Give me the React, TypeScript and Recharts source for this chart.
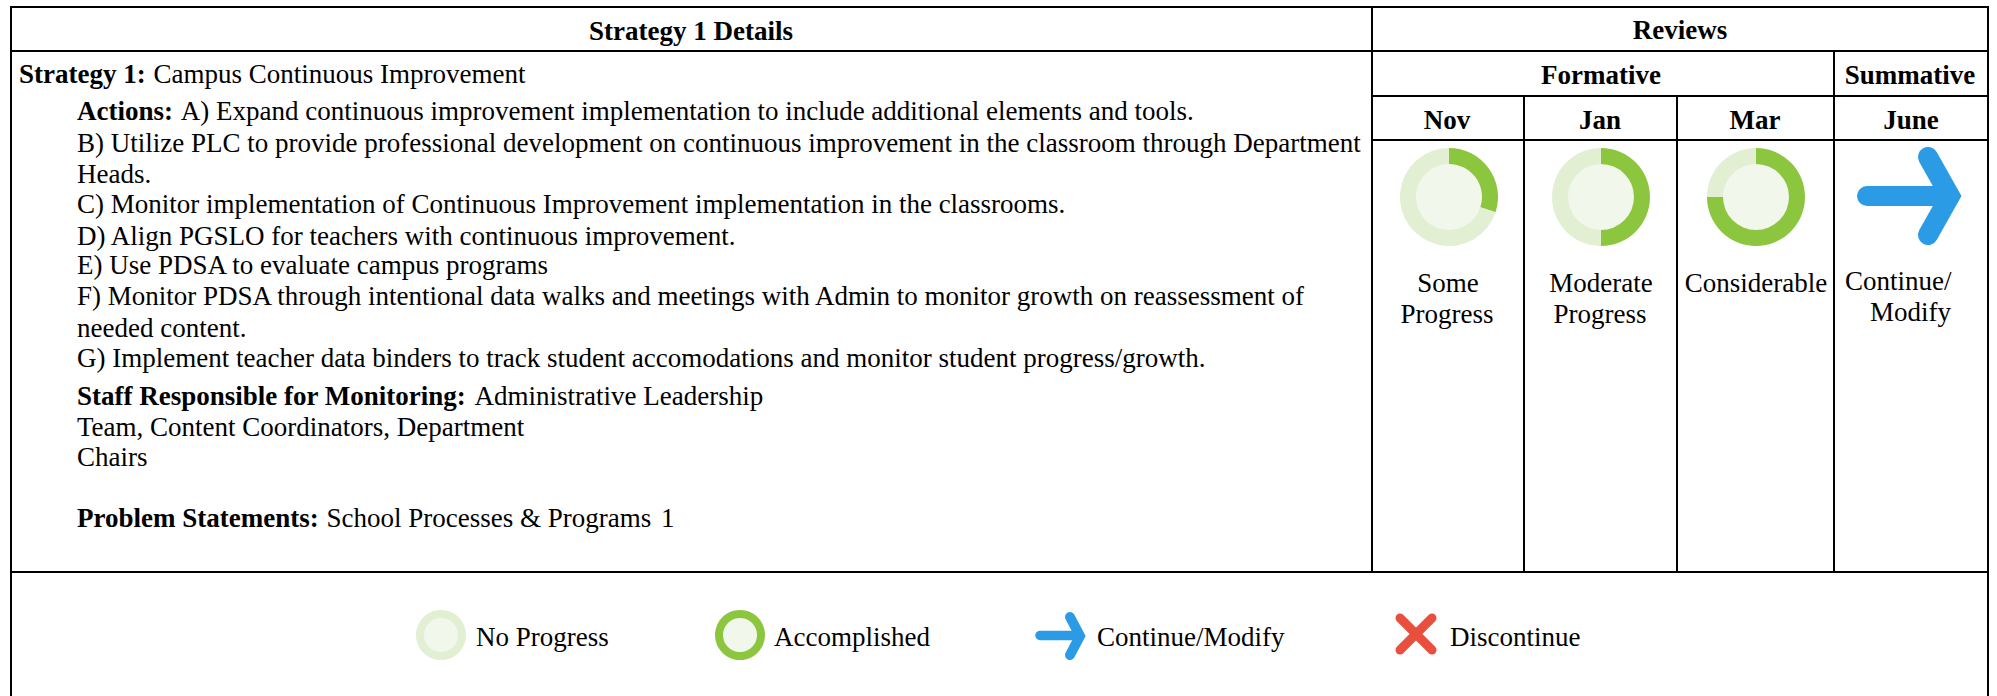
import React from "react";
import { PieChart, Pie, Cell } from "recharts";

const FONT = "'Liberation Serif', 'Times New Roman', serif";
const FONT_SIZE = 27;

// ---- data ----
const months = ["Nov", "Jan", "Mar"];
const reviewPercent = [30, 50, 75];
const reviewLabels = [["Some", "Progress"], ["Moderate", "Progress"], ["Considerable"]];
const summativeMonth = "June";
const summativeLabel = ["Continue/", "Modify"];
const legendPercent = [0, 100];
const legendLabels = ["No Progress", "Accomplished", "Continue/Modify", "Discontinue"];
const actionLines = [
  "A) Expand continuous improvement implementation to include additional elements and tools.",
  "B) Utilize PLC to provide professional development on continuous improvement in the classroom through Department",
  "Heads.",
  "C) Monitor implementation of Continuous Improvement implementation in the classrooms.",
  "D) Align PGSLO for teachers with continuous improvement.",
  "E) Use PDSA to evaluate campus programs",
  "F) Monitor PDSA through intentional data walks and meetings with Admin to monitor growth on reassessment of",
  "needed content.",
  "G) Implement teacher data binders to track student accomodations and monitor student progress/growth.",
];
const staffLines = ["Administrative Leadership", "Team, Content Coordinators, Department", "Chairs"];

// ---- layout ----
const actionBaselines = [120, 152, 183, 213, 245, 274, 305, 337, 367];
const staffBaselines = [405, 436, 466];
const monthCenters = [1448, 1601, 1756];
const legendDonutCenters = [441, 740];
const legendTextX = [476, 774, 1097, 1450];

const GREEN = "#8cc63f";
const PALE = "#e2efd3";
const CORE = "#f1f7ea";
const BLUE = "#2b9be6";
const RED = "#e94f3d";

function Donut({ cx, cy, rx, inner, percent }: { cx: number; cy: number; rx: number; inner: number; percent: number }) {
  const size = rx * 2 + 4;
  const data = [
    { name: "done", value: percent },
    { name: "rest", value: 100 - percent },
  ];
  return (
    <div style={{ position: "absolute", left: cx - size / 2, top: cy - size / 2, width: size, height: size }}>
      <PieChart width={size} height={size} margin={{ top: 0, right: 0, bottom: 0, left: 0 }}>
        <Pie data={[{ value: 1 }]} dataKey="value" cx="50%" cy="50%" innerRadius={0} outerRadius={inner + 1} fill={CORE} stroke="none" isAnimationActive={false} />
        <Pie data={data} dataKey="value" cx="50%" cy="50%" innerRadius={inner} outerRadius={rx} startAngle={90} endAngle={-270} stroke="none" isAnimationActive={false}>
          <Cell fill={GREEN} />
          <Cell fill={PALE} />
        </Pie>
      </PieChart>
    </div>
  );
}

function T({ x, y, bold, anchor, children }: { x: number; y: number; bold?: boolean; anchor?: "start" | "middle" | "end"; children: React.ReactNode }) {
  return (
    <text x={x} y={y} fontWeight={bold ? 700 : 400} textAnchor={anchor ?? "start"} fontFamily={FONT} fontSize={FONT_SIZE} fill="#000" xmlSpace="preserve">
      {children}
    </text>
  );
}

function L({ x1, y1, x2, y2 }: { x1: number; y1: number; x2: number; y2: number }) {
  return <line x1={x1} y1={y1} x2={x2} y2={y2} stroke="#000" strokeWidth={2} />;
}

export default function App() {
  return (
    <div style={{ position: "absolute", left: 0, top: 0, width: 1997, height: 696, background: "#fff", overflow: "hidden" }}>
      <svg width={1997} height={696} style={{ position: "absolute", left: 0, top: 0 }}>
        {/* grid */}
        <L x1={10} y1={7} x2={1989} y2={7} />
        <L x1={10} y1={51} x2={1989} y2={51} />
        <L x1={1372} y1={96} x2={1989} y2={96} />
        <L x1={1372} y1={140} x2={1989} y2={140} />
        <L x1={10} y1={572} x2={1989} y2={572} />
        <L x1={11} y1={6} x2={11} y2={696} />
        <L x1={1988} y1={6} x2={1988} y2={696} />
        <L x1={1372} y1={6} x2={1372} y2={572} />
        <L x1={1524} y1={96} x2={1524} y2={572} />
        <L x1={1677} y1={96} x2={1677} y2={572} />
        <L x1={1834} y1={51} x2={1834} y2={572} />

        {/* headers */}
        <T x={691} y={40} bold anchor="middle">Strategy 1 Details</T>
        <T x={1680} y={39} bold anchor="middle">Reviews</T>
        <T x={1601} y={84} bold anchor="middle">Formative</T>
        <T x={1910} y={84} bold anchor="middle">Summative</T>
        {months.map((m, i) => (
          <T key={m} x={monthCenters[i] - 1} y={129} bold anchor="middle">{m}</T>
        ))}
        <T x={1911} y={129} bold anchor="middle">{summativeMonth}</T>

        {/* body */}
        <text x={19} y={83} fontFamily={FONT} fontSize={FONT_SIZE}>
          <tspan fontWeight={700}>Strategy 1:</tspan> <tspan dx={1}>Campus Continuous Improvement</tspan>
        </text>
        {actionLines.map((line, i) => (
          <text key={i} x={77} y={actionBaselines[i]} fontFamily={FONT} fontSize={FONT_SIZE}>
            {i === 0 ? <tspan fontWeight={700}>Actions: </tspan> : null}
            <tspan dx={i === 0 ? 1 : 0}>{line}</tspan>
          </text>
        ))}
        {staffLines.map((line, i) => (
          <text key={i} x={77} y={staffBaselines[i]} fontFamily={FONT} fontSize={FONT_SIZE}>
            {i === 0 ? <tspan fontWeight={700}>Staff Responsible for Monitoring: </tspan> : null}
            <tspan dx={i === 0 ? 2 : 0}>{line}</tspan>
          </text>
        ))}
        <text x={77} y={527} fontFamily={FONT} fontSize={FONT_SIZE}>
          <tspan fontWeight={700}>Problem Statements:</tspan> <tspan dx={1}>School Processes &amp; Programs</tspan> <tspan dx={3}>1</tspan>
        </text>

        {/* review labels */}
        {reviewLabels.map((lines, i) =>
          lines.map((line, j) => (
            <T key={line + i} x={monthCenters[i] - (j === 1 ? 1 : 0)} y={292 + j * 31} anchor="middle">{line}</T>
          ))
        )}
        <T x={1845} y={290}>{summativeLabel[0]}</T>
        <T x={1870} y={321}>{summativeLabel[1]}</T>

        {/* big arrow */}
        <g fill="none" stroke={BLUE} strokeWidth={20} strokeLinecap="round" strokeLinejoin="miter">
          <path d="M1867 196 H1948" />
          <path d="M1928 157 L1950 196 L1928 235" />
        </g>

        {/* legend */}
        {legendLabels.map((l, i) => (
          <T key={l} x={legendTextX[i]} y={646}>{l}</T>
        ))}
        <g fill="none" stroke={BLUE} strokeLinecap="round">
          <path d="M1040 635.5 H1078" strokeWidth={9.5} />
          <path d="M1070 617 L1080 636 L1070 655" strokeWidth={10} />
        </g>
        <g fill="none" stroke={RED} strokeWidth={9} strokeLinecap="round">
          <path d="M1400 618 L1432 650" />
          <path d="M1432 618 L1400 650" />
        </g>
      </svg>

      {reviewPercent.map((p, i) => (
        <Donut key={months[i]} cx={monthCenters[i] + (i === 0 ? 1 : 0)} cy={197} rx={49} inner={33} percent={p} />
      ))}
      {legendPercent.map((p, i) => (
        <Donut key={legendLabels[i]} cx={legendDonutCenters[i]} cy={635} rx={25} inner={17} percent={p} />
      ))}
    </div>
  );
}
